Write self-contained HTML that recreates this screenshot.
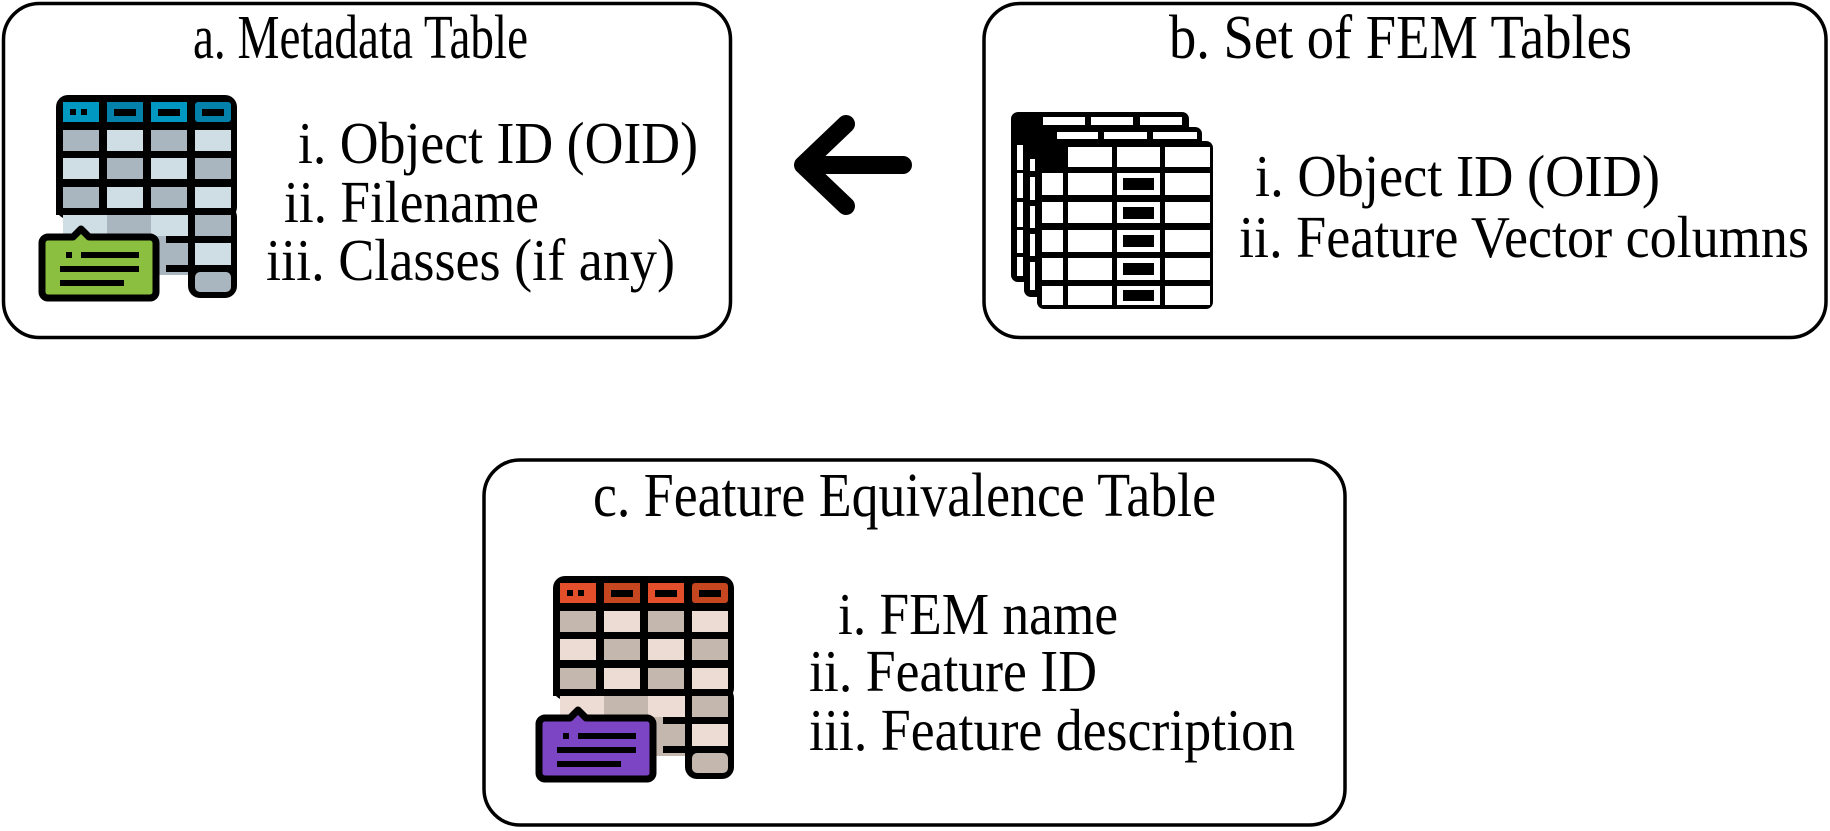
<!DOCTYPE html>
<html><head><meta charset="utf-8"><style>
html,body{margin:0;padding:0;background:#fff;}
svg{display:block;}
text{font-family:"Liberation Serif",serif;fill:#000;}
</style></head><body>
<svg width="1830" height="831" viewBox="0 0 1830 831" xmlns="http://www.w3.org/2000/svg">
<defs>
<g id="tbl">
  <rect x="0" y="0" width="181" height="124" rx="12" fill="#000"/>
  <rect x="132" y="110" width="49" height="93" rx="12" fill="#000"/>
  <rect x="0" y="110" width="8" height="10" fill="#000"/>
  <rect x="44" y="110" width="7" height="10" fill="#000"/>
  <rect x="88" y="110" width="7" height="10" fill="#000"/>
  <rect x="110" y="141" width="30" height="7" fill="#000"/>
  <rect x="110" y="170" width="30" height="7" fill="#000"/>
</g>
</defs>

<rect x="3.5" y="3.5" width="727" height="334" rx="36" fill="none" stroke="#000" stroke-width="3.5"/>
<rect x="984" y="3.5" width="842" height="334" rx="36" fill="none" stroke="#000" stroke-width="3.5"/>
<rect x="484" y="460" width="861" height="365" rx="36" fill="none" stroke="#000" stroke-width="3.5"/>

<g stroke="#000" stroke-width="18" stroke-linecap="round" stroke-linejoin="round" fill="none">
  <polyline points="846,124 803,165 846,206"/>
  <line x1="805" y1="165" x2="903" y2="165"/>
</g>

<text x="193" y="58" font-size="62" textLength="335" lengthAdjust="spacingAndGlyphs">a. Metadata Table</text>
<text x="1169" y="58" font-size="62" textLength="463" lengthAdjust="spacingAndGlyphs">b. Set of FEM Tables</text>
<text x="593" y="516" font-size="62" textLength="623" lengthAdjust="spacingAndGlyphs">c. Feature Equivalence Table</text>

<text x="298" y="163" font-size="59" textLength="400" lengthAdjust="spacingAndGlyphs">i. Object ID (OID)</text>
<text x="284" y="222" font-size="59" textLength="255" lengthAdjust="spacingAndGlyphs">ii. Filename</text>
<text x="266" y="280" font-size="59" textLength="409" lengthAdjust="spacingAndGlyphs">iii. Classes (if any)</text>

<text x="1255" y="196" font-size="59" textLength="405" lengthAdjust="spacingAndGlyphs">i. Object ID (OID)</text>
<text x="1239" y="257" font-size="59" textLength="570" lengthAdjust="spacingAndGlyphs">ii. Feature Vector columns</text>

<text x="838" y="634" font-size="59" textLength="280" lengthAdjust="spacingAndGlyphs">i. FEM name</text>
<text x="809" y="691" font-size="59" textLength="288" lengthAdjust="spacingAndGlyphs">ii. Feature ID</text>
<text x="809" y="750" font-size="59" textLength="486" lengthAdjust="spacingAndGlyphs">iii. Feature description</text>

<g transform="translate(56,95)">
  <use href="#tbl"/>
  <rect x="7" y="7" width="36" height="20" fill="#0097c1"/>
  <rect x="51" y="7" width="36" height="20" fill="#0381aa"/>
  <rect x="95" y="7" width="36" height="20" fill="#0097c1"/>
  <rect x="139" y="7" width="36" height="20" rx="3" fill="#0381aa"/>
  <rect x="14" y="14" width="6" height="6" fill="#000"/><rect x="25" y="14" width="6" height="6" fill="#000"/>
  <rect x="58" y="14" width="22" height="7" fill="#000"/>
  <rect x="102" y="14" width="22" height="7" fill="#000"/>
  <rect x="146" y="14" width="22" height="7" fill="#000"/>
  <g fill="#aab6bf">
    <rect x="7" y="35" width="36" height="21"/><rect x="95" y="35" width="36" height="21"/>
    <rect x="51" y="63" width="36" height="21"/><rect x="139" y="63" width="36" height="21"/>
    <rect x="7" y="92" width="36" height="21"/><rect x="95" y="92" width="36" height="21"/>
    <rect x="51" y="120" width="44" height="60"/><rect x="139" y="120" width="36" height="21"/>
    <rect x="139" y="177" width="36" height="20" rx="5"/>
  </g>
  <g fill="#cfdde5">
    <rect x="51" y="35" width="36" height="21"/><rect x="139" y="35" width="36" height="21"/>
    <rect x="7" y="63" width="36" height="21"/><rect x="95" y="63" width="36" height="21"/>
    <rect x="51" y="92" width="36" height="21"/><rect x="139" y="92" width="36" height="21"/>
    <rect x="7" y="120" width="44" height="30"/><rect x="95" y="120" width="37" height="21"/>
    <rect x="139" y="148" width="36" height="22"/>
  </g>
  <rect x="95" y="141" width="37" height="39" fill="#aab6bf"/>
  <rect x="110" y="141" width="30" height="7" fill="#000"/>
  <rect x="110" y="170" width="30" height="7" fill="#000"/>
  <path d="M-8,142 H17 L25,134 L33,142 H94 a6,6 0 0 1 6,6 V197 a6,6 0 0 1 -6,6 H-8 a6,6 0 0 1 -6,-6 V148 a6,6 0 0 1 6,-6 Z" fill="#8bbf40" stroke="#000" stroke-width="7" stroke-linejoin="round"/>
  <rect x="10" y="157" width="6" height="6" fill="#000"/>
  <rect x="25" y="157" width="58" height="6" fill="#000"/>
  <rect x="4" y="171" width="79" height="6" fill="#000"/>
  <rect x="4" y="185" width="64" height="6" fill="#000"/>
</g>

<g transform="translate(553,576)">
  <use href="#tbl"/>
  <rect x="7" y="7" width="36" height="20" fill="#e34e2b"/>
  <rect x="51" y="7" width="36" height="20" fill="#c5461f"/>
  <rect x="95" y="7" width="36" height="20" fill="#e34e2b"/>
  <rect x="139" y="7" width="36" height="20" rx="3" fill="#c5461f"/>
  <rect x="14" y="14" width="6" height="6" fill="#000"/><rect x="25" y="14" width="6" height="6" fill="#000"/>
  <rect x="58" y="14" width="22" height="7" fill="#000"/>
  <rect x="102" y="14" width="22" height="7" fill="#000"/>
  <rect x="146" y="14" width="22" height="7" fill="#000"/>
  <g fill="#c4b7ad">
    <rect x="7" y="35" width="36" height="21"/><rect x="95" y="35" width="36" height="21"/>
    <rect x="51" y="63" width="36" height="21"/><rect x="139" y="63" width="36" height="21"/>
    <rect x="7" y="92" width="36" height="21"/><rect x="95" y="92" width="36" height="21"/>
    <rect x="51" y="120" width="44" height="60"/><rect x="139" y="120" width="36" height="21"/>
    <rect x="139" y="177" width="36" height="20" rx="5"/>
  </g>
  <g fill="#ecdcd3">
    <rect x="51" y="35" width="36" height="21"/><rect x="139" y="35" width="36" height="21"/>
    <rect x="7" y="63" width="36" height="21"/><rect x="95" y="63" width="36" height="21"/>
    <rect x="51" y="92" width="36" height="21"/><rect x="139" y="92" width="36" height="21"/>
    <rect x="7" y="120" width="44" height="30"/><rect x="95" y="120" width="37" height="21"/>
    <rect x="139" y="148" width="36" height="22"/>
  </g>
  <rect x="95" y="141" width="37" height="39" fill="#c4b7ad"/>
  <rect x="110" y="141" width="30" height="7" fill="#000"/>
  <rect x="110" y="170" width="30" height="7" fill="#000"/>
  <path d="M-8,142 H17 L25,134 L33,142 H94 a6,6 0 0 1 6,6 V197 a6,6 0 0 1 -6,6 H-8 a6,6 0 0 1 -6,-6 V148 a6,6 0 0 1 6,-6 Z" fill="#7b45c3" stroke="#000" stroke-width="7" stroke-linejoin="round"/>
  <rect x="10" y="157" width="6" height="6" fill="#000"/>
  <rect x="25" y="157" width="58" height="6" fill="#000"/>
  <rect x="4" y="171" width="79" height="6" fill="#000"/>
  <rect x="4" y="185" width="64" height="6" fill="#000"/>
</g>

<g>
  <rect x="1011" y="112" width="178" height="170" rx="7" fill="#000"/>
  <g fill="#fff">
    <rect x="1043" y="117" width="42" height="8"/><rect x="1091" y="117" width="42" height="8"/><rect x="1140" y="117" width="42" height="8"/>
    <rect x="1017" y="145" width="6" height="25"/><rect x="1017" y="173" width="6" height="25"/><rect x="1017" y="202" width="6" height="25"/><rect x="1017" y="230" width="6" height="23"/><rect x="1017" y="257" width="6" height="19"/>
  </g>
  <rect x="1024" y="127" width="178" height="170" rx="7" fill="#000"/>
  <g fill="#fff">
    <rect x="1057" y="132" width="41" height="7"/><rect x="1104" y="132" width="43" height="7"/><rect x="1153" y="132" width="44" height="7"/>
    <rect x="1030" y="159" width="5" height="12"/><rect x="1030" y="177" width="5" height="23"/><rect x="1030" y="206" width="5" height="22"/><rect x="1030" y="234" width="5" height="22"/><rect x="1030" y="262" width="5" height="28"/>
  </g>
  <rect x="1037" y="141" width="176" height="168" rx="7" fill="#000"/>
  <g transform="translate(1037,141)" fill="#fff">
    <rect x="31" y="6" width="44" height="20"/><rect x="80" y="6" width="43" height="20"/><rect x="128" y="6" width="45" height="20"/>
    <rect x="5" y="32" width="21" height="22"/><rect x="31" y="32" width="44" height="22"/><rect x="80" y="32" width="43" height="22"/><rect x="128" y="32" width="45" height="22"/>
    <rect x="5" y="61" width="21" height="21"/><rect x="31" y="61" width="44" height="21"/><rect x="80" y="61" width="43" height="21"/><rect x="128" y="61" width="45" height="21"/>
    <rect x="5" y="89" width="21" height="22"/><rect x="31" y="89" width="44" height="22"/><rect x="80" y="89" width="43" height="22"/><rect x="128" y="89" width="45" height="22"/>
    <rect x="5" y="117" width="21" height="22"/><rect x="31" y="117" width="44" height="22"/><rect x="80" y="117" width="43" height="22"/><rect x="128" y="117" width="45" height="22"/>
    <rect x="5" y="145" width="21" height="19"/><rect x="31" y="145" width="44" height="19"/><rect x="80" y="145" width="43" height="19"/><rect x="128" y="145" width="45" height="19"/>
  </g>
  <g transform="translate(1037,141)" fill="#000">
    <rect x="86" y="37" width="31" height="12"/>
    <rect x="86" y="66" width="31" height="12"/>
    <rect x="86" y="94" width="31" height="12"/>
    <rect x="86" y="122" width="31" height="12"/>
    <rect x="86" y="149" width="31" height="11"/>
  </g>
</g>
</svg>
</body></html>
